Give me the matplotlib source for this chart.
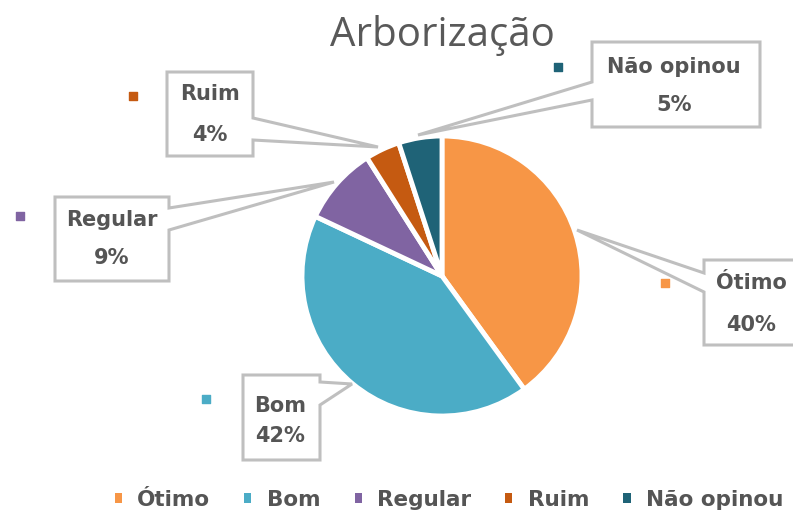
import matplotlib.pyplot as plt
from matplotlib.patches import Polygon, Patch

W, H = 793, 523

labels = ["Ótimo", "Bom", "Regular", "Ruim", "Não opinou"]
values = [40, 42, 9, 4, 5]
pcts = ["40%", "42%", "9%", "4%", "5%"]
colors = ["#F79646", "#4BACC6", "#8064A2", "#C55A11", "#1F6377"]

plt.rcParams['font.family'] = ['DejaVu Sans']
txt = "#555555"
edge = "#BFBFBF"

fig = plt.figure(figsize=(W / 100, H / 100), dpi=100)
ax = fig.add_axes([0, 0, 1, 1])

# pie in pixel-like data coords (y up)
wedges, _ = ax.pie(values, colors=colors, startangle=90, counterclock=False,
                   center=(442, H - 276), radius=140,
                   wedgeprops=dict(edgecolor='white', linewidth=3.5))
ax.set_xlim(0, W)
ax.set_ylim(0, H)
ax.set_aspect('equal')
ax.axis('off')

ax.text(442, H - 36, "Arborização", ha='center', va='center',
        fontsize=29, color="#595959", family=['Open Sans', 'DejaVu Sans'])


def fy(y):
    return H - y


def callout(box, side, base, tip):
    x0, y0, x1, y1 = box
    if side == 'right':
        pts = [(x0, y0), (x1, y0), (x1, base[0]), tip, (x1, base[1]), (x1, y1), (x0, y1)]
    else:
        pts = [(x0, y0), (x1, y0), (x1, y1), (x0, y1), (x0, base[1]), tip, (x0, base[0])]
    pts = [(p[0], fy(p[1])) for p in pts]
    ax.add_patch(Polygon(pts, closed=True, facecolor='white', edgecolor=edge,
                         linewidth=2.2, zorder=3))


# label boxes: box, pointer side, pointer base, tip, key marker, text centre x, text offsets
boxes = {
    "Ótimo": ((704, 260, 800, 345), 'left', (273, 292), (577, 230), (665, 283), 751, (23, 65)),
    "Bom": ((243, 375, 320, 460), 'right', (382, 405), (352, 384), (206, 399), 280, (31, 61)),
    "Regular": ((55, 197, 169, 281), 'right', (208, 230), (334, 182), (20, 216), 112, (23, 61)),
    "Ruim": ((167, 72, 253, 156), 'right', (118, 140), (378, 147), (133, 96), 210, (22, 63)),
    "Não opinou": ((592, 42, 760, 127), 'left', (82, 100), (418, 135), (558, 67), 674, (25, 63)),
}

for name, pct, col in zip(labels, pcts, colors):
    box, side, base, tip, mk, cx, offs = boxes[name]
    callout(box, side, base, tip)
    ax.text(cx, fy(box[1] + offs[0]), name, ha='center', va='center', fontsize=15,
            color=txt, fontweight='bold', zorder=4)
    ax.text(cx, fy(box[1] + offs[1]), pct, ha='center', va='center', fontsize=15,
            color=txt, fontweight='bold', zorder=4)
    ax.scatter([mk[0]], [fy(mk[1])], marker='s', s=26, color=col, zorder=4)

handles = [Patch(facecolor=c, edgecolor='none') for c in colors]
leg = fig.legend(handles, labels, loc='lower center', ncol=5, frameon=False,
                 bbox_to_anchor=(0.566, -0.012), fontsize=15.5,
                 handlelength=0.33, handleheight=0.33, handletextpad=0.7,
                 columnspacing=1.6)
for t in leg.get_texts():
    t.set_color(txt)
    t.set_fontweight('bold')

fig.savefig("out.png", dpi=100)
